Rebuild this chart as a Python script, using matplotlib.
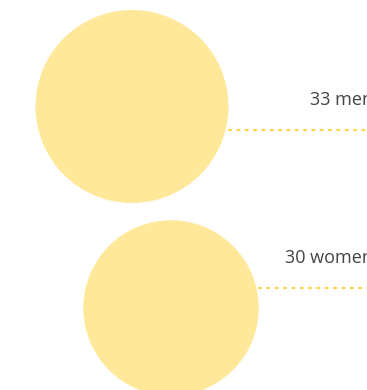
import matplotlib.pyplot as plt
from matplotlib.patches import Circle

# counts shown as bubbles
labels = ['men', 'women']
counts = [33, 30]

# layout in pixel units (y grows downward)
W, H = 367, 390
centers_x = [132, 171]
centers_y = [106.5, 308]
px_per_unit = 96.5 / 33
label_x = 373
line_offset = [23.5, -20]   # leader line y relative to bubble centre
text_gap = 30

bubble_color = '#FFE899'
dot_color = '#FFD43B'

fig = plt.figure(figsize=(W / 100, H / 100), dpi=100)
ax = fig.add_axes([0, 0, 1, 1])
ax.set_xlim(0, W)
ax.set_ylim(H, 0)
ax.axis('off')

for i in range(len(counts)):
    r = counts[i] * px_per_unit
    cx, cy = centers_x[i], centers_y[i]
    ax.add_patch(Circle((cx, cy), r, facecolor=bubble_color, edgecolor='none'))
    ly = cy + line_offset[i]
    ax.plot([cx + r, W + 10], [ly, ly], color=dot_color, lw=1.5,
            linestyle=(0, (1, 3)), solid_capstyle='round', dash_capstyle='round')
    ax.text(label_x, ly - text_gap, f'{counts[i]} {labels[i]}', ha='right', va='center',
            fontsize=13, color='#444444', family='Open Sans')

fig.savefig('out.png', dpi=100)
